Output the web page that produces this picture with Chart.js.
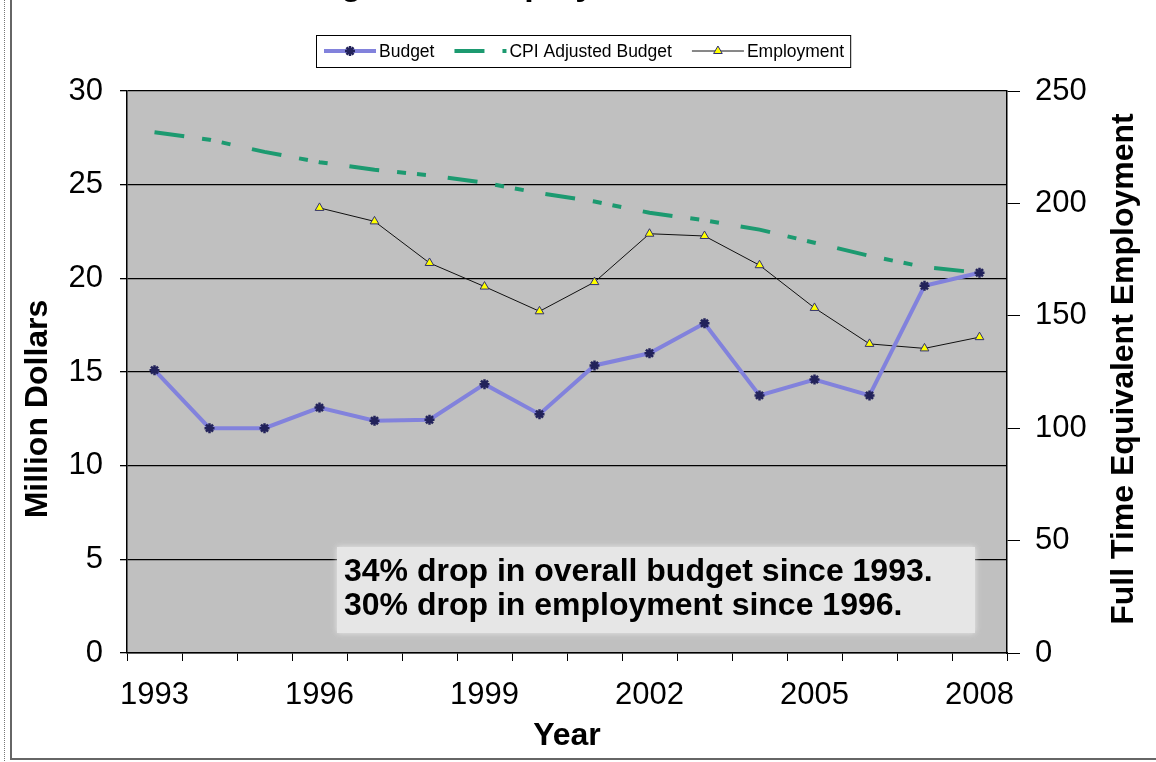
<!DOCTYPE html>
<html>
<head>
<meta charset="utf-8">
<script src="https://cdn.jsdelivr.net/npm/chart.js@4.4.1/dist/chart.umd.min.js"></script>
<style>
  html, body { margin: 0; padding: 0; background: #fff; }
  #wrap { width: 1156px; height: 762px; }
</style>
</head>
<body>
<div id="wrap"><canvas id="budgetChart" width="1156" height="762"></canvas></div>
<script>
// values
const years = ['1993', '1994', '1995', '1996', '1997', '1998', '1999', '2000',
               '2001', '2002', '2003', '2004', '2005', '2006', '2007', '2008'];
const budget = [15.1, 12.0, 12.0, 13.1, 12.4, 12.45, 14.35, 12.75,
                15.35, 16.0, 17.6, 13.75, 14.6, 13.75, 19.6, 20.3];
const cpiBudget = [27.8, 27.4, 26.75, 26.2, 25.8, 25.5, 25.1, 24.55,
                   24.1, 23.5, 23.1, 22.6, 21.9, 21.2, 20.6, 20.3];
const employment = [null, null, null, 198, 192, 173.5, 163, 152,
                    165, 186.5, 185.5, 172.5, 153.5, 137.5, 135.5, 140.5];
const labeledYears = ['1993', '1996', '1999', '2002', '2005', '2008'];
const notes = ['34% drop in overall budget since 1993.', '30% drop in employment since 1996.'];
const chartTitle = 'Budget and Employment';

const FONT = '"Liberation Sans", Arial, sans-serif';

// gray plot area, page frame and the cut-off title
const backdrop = {
    id: 'backdrop',
    beforeDraw(chart) {
        const { ctx, chartArea: a } = chart;
        ctx.save();
        ctx.fillStyle = '#fff';
        ctx.fillRect(0, 0, chart.width, chart.height);
        ctx.fillStyle = '#c0c0c0';
        ctx.fillRect(a.left, a.top, a.right - a.left, a.bottom - a.top);

        // frame
        ctx.strokeStyle = '#777';
        ctx.lineWidth = 1;
        ctx.setLineDash([1, 1]);
        ctx.beginPath();
        ctx.moveTo(4.5, 0); ctx.lineTo(4.5, chart.height);
        ctx.stroke();
        ctx.setLineDash([]);
        ctx.lineWidth = 2;
        ctx.strokeStyle = '#666';
        ctx.beginPath();
        ctx.moveTo(11, 0); ctx.lineTo(11, chart.height - 3);
        ctx.lineTo(chart.width, chart.height - 3);
        ctx.stroke();

        // title, almost all of it above the picture (only descenders show)
        ctx.fillStyle = '#000';
        ctx.font = 'bold 34px ' + FONT;
        ctx.textAlign = 'left';
        ctx.textBaseline = 'alphabetic';
        ctx.fillText(chartTitle, 275, -5);
        ctx.restore();
    }
};

// legend drawn from the datasets (line sample + marker + label)
const lineLegend = {
    id: 'lineLegend',
    afterDraw(chart) {
        const ctx = chart.ctx;
        const cy = 51;
        let x = 324;
        ctx.save();
        ctx.font = '17.5px ' + FONT;
        ctx.textBaseline = 'middle';
        ctx.textAlign = 'left';
        chart.data.datasets.forEach(ds => {
            ctx.strokeStyle = ds.borderColor;
            ctx.lineWidth = ds.borderWidth;
            ctx.setLineDash(ds.borderDash || []);
            ctx.beginPath();
            ctx.moveTo(x, cy);
            ctx.lineTo(x + 52, cy);
            ctx.stroke();
            ctx.setLineDash([]);
            if (ds.pointRadius > 0) {
                ctx.fillStyle = ds.pointBackgroundColor;
                ctx.strokeStyle = ds.pointBorderColor;
                ctx.lineWidth = ds.pointBorderWidth;
                Chart.helpers.drawPoint(ctx, {
                    pointStyle: ds.pointStyle, radius: ds.pointRadius,
                    borderWidth: ds.pointBorderWidth, rotation: 0
                }, x + 26, cy);
            }
            ctx.fillStyle = '#000';
            ctx.fillText(ds.label, x + 55, cy + 1);
            x += 55 + ctx.measureText(ds.label).width + 20;
        });
        ctx.strokeStyle = '#000';
        ctx.lineWidth = 1;
        ctx.strokeRect(316.5, 35.5, x - 14 - 316, 32);
        ctx.restore();
    }
};

// axis titles and the note box
const extras = {
    id: 'extras',
    afterDatasetsDraw(chart) {
        const ctx = chart.ctx;
        ctx.save();
        ctx.fillStyle = '#e6e6e6';
        ctx.shadowColor = 'rgba(238,238,238,0.9)';
        ctx.shadowBlur = 6;
        ctx.fillRect(337, 547, 638, 86);
        ctx.shadowBlur = 0;
        ctx.fillStyle = '#000';
        ctx.font = 'bold 32px ' + FONT;
        ctx.textAlign = 'left';
        ctx.textBaseline = 'middle';
        notes.forEach((t, i) => ctx.fillText(t, 344, 572 + i * 34));
        ctx.restore();
    },
    afterDraw(chart) {
        const { ctx, chartArea: a } = chart;
        ctx.save();
        ctx.fillStyle = '#000';
        ctx.font = 'bold 32px ' + FONT;
        ctx.textAlign = 'center';
        ctx.textBaseline = 'middle';
        ctx.fillText('Year', (a.left + a.right) / 2, 736);

        ctx.translate(38, 409);
        ctx.rotate(-Math.PI / 2);
        ctx.fillText('Million Dollars', 0, 0);
        ctx.setTransform(1, 0, 0, 1, 0, 0);

        ctx.translate(1124, 369);
        ctx.rotate(-Math.PI / 2);
        ctx.fillText('Full Time Equivalent Employment', 0, 0);
        ctx.restore();
    }
};

const ctx = document.getElementById('budgetChart').getContext('2d');

new Chart(ctx, {
    type: 'line',
    data: {
        labels: years,
        datasets: [{
            label: 'Budget',
            data: budget,
            yAxisID: 'y',
            borderColor: '#8282dc',
            borderWidth: 4,
            pointStyle: 'star',
            pointRadius: 5,
            pointBackgroundColor: '#22225a',
            pointBorderColor: '#22225a',
            pointBorderWidth: 2.5
        }, {
            label: 'CPI Adjusted Budget',
            data: cpiBudget,
            yAxisID: 'y',
            borderColor: '#1c9a70',
            borderWidth: 4,
            borderDash: [30, 18, 9, 11, 9, 22],
            pointRadius: 0
        }, {
            label: 'Employment',
            data: employment,
            yAxisID: 'y1',
            borderColor: '#111',
            borderWidth: 1,
            pointStyle: 'triangle',
            pointRadius: 5,
            pointBackgroundColor: '#ffff00',
            pointBorderColor: '#303070',
            pointBorderWidth: 1
        }]
    },
    options: {
        responsive: false,
        animation: false,
        spanGaps: false,
        layout: { padding: { top: 91, left: 0, right: 0, bottom: 0 } },
        plugins: {
            legend: { display: false },
            title: { display: false },
            tooltip: { enabled: false }
        },
        elements: { line: { tension: 0 } },
        scales: {
            x: {
                offset: true,
                grid: { offset: true, drawOnChartArea: false, color: '#000', tickLength: 8 },
                border: { color: '#000', width: 1.5 },
                ticks: {
                    autoSkip: false,
                    maxRotation: 0,
                    padding: 16,
                    color: '#000',
                    font: { family: FONT, size: 31 },
                    callback: (v, i) => labeledYears.includes(years[i]) ? years[i] : ''
                },
                afterFit: s => { s.height = 109; }
            },
            y: {
                position: 'left',
                min: 0,
                max: 30,
                ticks: { stepSize: 5, padding: 17, color: '#000', font: { family: FONT, size: 31 } },
                grid: { color: '#000', lineWidth: 1.3, tickLength: 7 },
                border: { color: '#000', width: 1.5 },
                afterFit: s => { s.width = 127; }
            },
            y1: {
                position: 'right',
                min: 0,
                max: 250,
                ticks: { stepSize: 50, padding: 15, color: '#000', font: { family: FONT, size: 31 } },
                grid: { drawOnChartArea: false, color: '#000', tickLength: 13 },
                border: { color: '#000', width: 1.5 },
                afterFit: s => { s.width = 149; }
            }
        }
    },
    plugins: [backdrop, extras, lineLegend]
});
</script>
</body>
</html>
